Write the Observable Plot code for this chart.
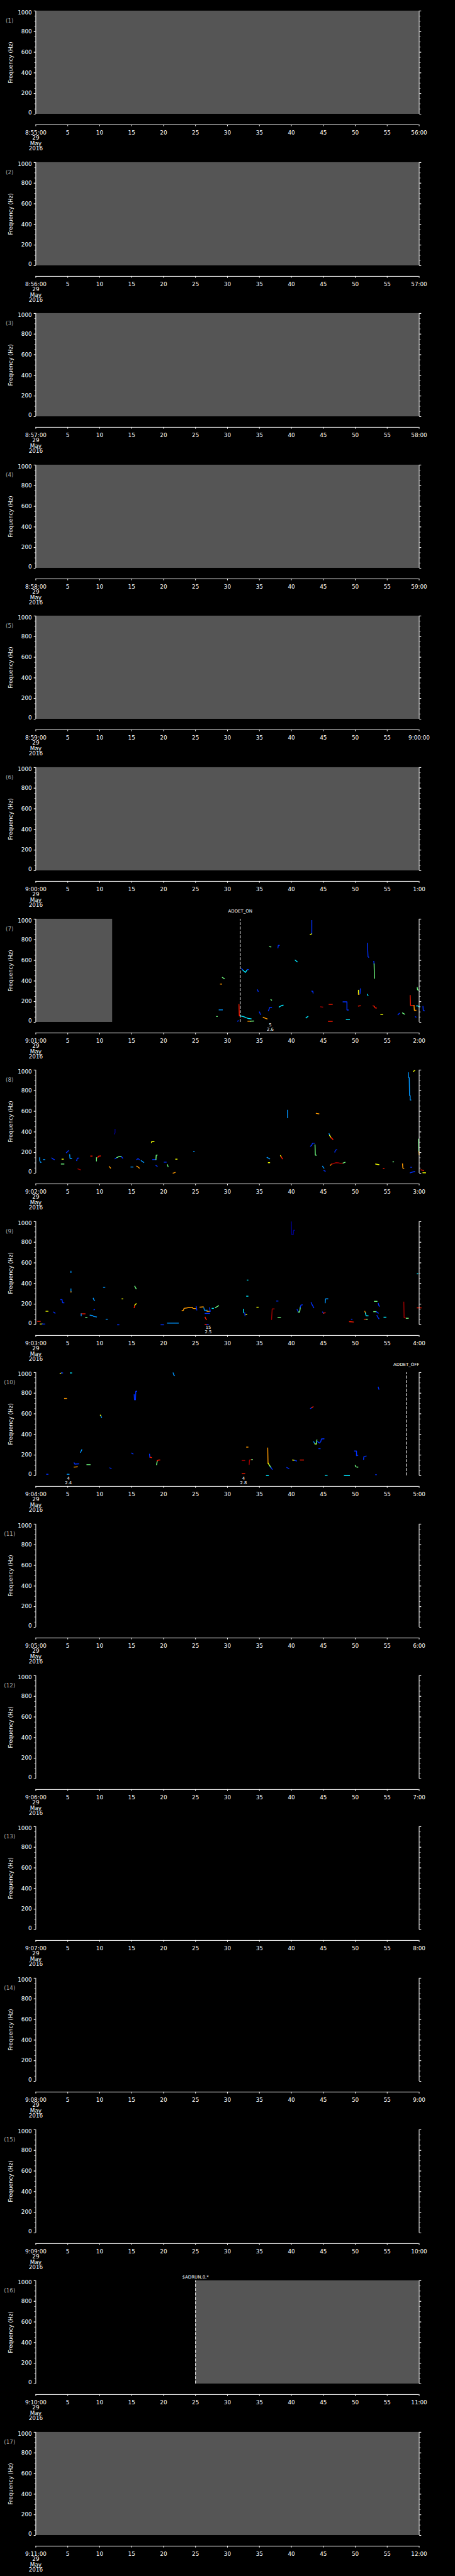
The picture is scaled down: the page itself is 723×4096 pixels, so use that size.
<!DOCTYPE html>
<html><head><meta charset="utf-8">
<script src="https://cdn.jsdelivr.net/npm/d3@7"></script>
<script src="https://cdn.jsdelivr.net/npm/@observablehq/plot@0.6"></script>
<style>
html,body{margin:0;padding:0;background:#000;}
#chart{width:723px;}
#chart svg{display:block;}
</style></head><body><div id="chart"></div>
<script>
// ---------------- DATA ----------------
const panelNumbers = [1,2,3,4,5,6,7,8,9,10,11,12,13,14,15,16,17];
const startLabels = ["8:55:00","8:56:00","8:57:00","8:58:00","8:59:00","9:00:00","9:01:00","9:02:00","9:03:00","9:04:00","9:05:00","9:06:00","9:07:00","9:08:00","9:09:00","9:10:00","9:11:00"];
const endLabels = ["56:00","57:00","58:00","59:00","9:00:00","1:00","2:00","3:00","4:00","5:00","6:00","7:00","8:00","9:00","10:00","11:00","12:00"];
const dateLines = ["29","May","2016"];
const xTicks = [0,5,10,15,20,25,30,35,40,45,50,55,60];
const midTickLabels = ["5","10","15","20","25","30","35","40","45","50","55"];
const yTicks = [0,200,400,600,800,1000];
const yMinorTicks = [0,50,100,150,200,250,300,350,400,450,500,550,600,650,700,750,800,850,900,950,1000];
const yTitle = "Frequency (Hz)";

// no-data (grey) spans, seconds within each minute
const grayPanels = [1,2,3,4,5,6,7,16,17];
const grayFrom   = [0,0,0,0,0,0,0,25,0];
const grayTo     = [60,60,60,60,60,60,12,60,60];

// event markers
const eventPanels = [7,10,16];
const eventTimes  = [32,58,25];
const eventLabels = ["ADDET_ON","ADDET_OFF","$ADRUN,0,*"];

// small annotations under the plot
const notePanels = [7,9,10,10];
const noteTimes  = [36.7,27.0,5.1,32.5];
const noteTop    = ["5","15","4","4"];
const noteBottom = ["2.6","2.5","2.4","2.8"];

// colour codes (intensity classes) -> jet colours
const colorCodes  = ["B","b","a","c","g","y","o","r","R"];
const colorValues = ["#00008c","#0030ff","#0096ff","#00e8ff","#70ff80","#f0ff00","#ff9a00","#ff1a00","#a00000"];

// traces: [colour, t1,f1, t2,f2, ...]  (t in s, f in Hz)
const traces7 = [
 ["b",43.2,986,43.2,857],["y",42.95,850,43.15,857],
 ["g",36.6,733,36.8,730],["b",38.1,745,37.95,745,37.9,722],
 ["c",40.6,602,40.9,587],
 ["b",51.9,766,51.95,700,52.0,635,52.1,630],
 ["b",52.9,590,52.95,565],["g",52.95,565,53.0,427],
 ["b",32.2,520,32.4,506],["c",32.4,506,32.8,483,33.1,510],["b",33.1,510,33.3,510],
 ["g",29.2,434,29.5,423],
 ["o",28.9,370,29.1,370],
 ["b",34.7,315,34.8,300],
 ["b",43.2,302,43.35,300,43.4,284],
 ["y",50.5,310,50.5,271],["o",50.5,275,50.6,271],["b",50.8,324,50.75,278],
 ["c",51.9,271,52.0,258],
 ["g",59.7,337,59.75,315,59.9,312],
 ["g",36.8,219,36.9,215],
 ["r",58.6,259,58.65,162,59.2,162],["o",59.2,162,59.25,116,59.5,116],
 ["c",59.6,158,59.8,158,60.0,150],["b",60.6,153,60.65,115,60.8,112],
 ["b",48.1,198,48.7,198,48.7,119,48.9,119],
 ["r",45.9,174,46.4,174],
 ["R",44.6,150,44.9,147],
 ["r",50.5,157,50.8,160],
 ["r",52.8,159,53.0,155,53.1,140,53.3,138],
 ["r",31.8,172,31.85,64,32.0,62],
 ["c",32.0,62,32.5,55,32.9,45,33.3,36,33.7,33],
 ["o",33.2,10,33.6,10],["g",33.6,11,34.1,12],
 ["b",31.6,11,31.7,15],
 ["b",35.0,100,35.1,85,35.2,76],
 ["o",35.6,47,36.2,33],
 ["b",36.4,112,36.5,125,36.6,143,36.9,143],
 ["c",38.1,148,38.4,160,38.7,165],
 ["c",42.3,43,42.6,57],
 ["r",45.8,9,46.4,9],
 ["c",48.6,29,49.1,29],
 ["y",54.0,76,54.3,76],
 ["b",56.7,73,56.9,86],
 ["g",57.4,90,57.7,79],
 ["b",59.4,54,59.5,50],
 ["g",28.3,56,28.4,56],
 ["a",28.7,120,29.2,120]
];
const traces8 = [
 ["a",58.3,974,58.35,927,58.45,927,58.5,753,58.6,753,58.6,709,58.7,709],
 ["y",59.1,987,59.3,995],
 ["a",39.4,609,39.4,537],
 ["o",43.9,580,44.3,575],
 ["B",12.3,380,12.4,392,12.4,425],
 ["a",45.9,383,46.0,366],["y",46.0,366,46.2,345],["r",46.2,345,46.5,328],
 ["y",18.1,297,18.15,308,18.5,308],
 ["b",43.0,262,43.2,272,43.3,290,43.6,290],["g",43.7,275,43.75,175,43.9,175],
 ["g",59.9,330,59.95,210],["o",59.95,210,60.0,179],
 ["b",46.8,205,46.9,223,47.1,228],
 ["b",4.8,199,5.1,218],
 ["a",24.7,209,24.8,209],
 ["a",0.6,150,0.62,120,0.75,105,0.8,105],
 ["a",1.2,132,1.4,132],
 ["b",2.5,148,2.7,138,2.9,132],
 ["y",4.1,136,4.3,136],
 ["a",5.3,179,5.35,143,5.6,143],
 ["b",6.4,122,6.5,146,6.7,146],
 ["r",8.6,166,8.8,166],
 ["g",9.5,119,9.5,150],["r",9.7,150,9.8,165,10.1,167],
 ["R",6.6,42,7.0,33],
 ["g",4.0,89,4.4,89],
 ["b",12.4,140,12.7,152],["g",12.7,152,13.0,160,13.4,160],["b",13.4,160,13.6,146],
 ["o",11.5,64,11.7,50],
 ["a",14.9,60,15.2,60],
 ["o",15.8,67,16.0,60,16.2,50],
 ["b",15.8,132,16.0,142,16.2,132],
 ["a",16.5,122,16.7,112,16.9,105],
 ["b",18.3,132,18.8,132],["g",18.8,132,18.85,176,19.0,176],
 ["b",18.8,76,19.0,67],
 ["b",20.1,107,20.4,107],
 ["g",20.6,82,20.7,64],
 ["y",21.9,136,22.1,136],
 ["o",21.5,1,21.8,7],
 ["a",36.2,153,36.6,140],
 ["y",36.4,102,36.6,102],
 ["y",38.3,170,38.4,160],["r",38.4,160,38.6,140],
 ["a",44.9,67,45.0,55,45.1,50],
 ["b",45.1,26,45.3,19],
 ["o",46.1,76,46.3,88],["R",46.3,88,46.7,96,47.0,102,47.4,100,47.7,96,48.1,98],["g",48.1,98,48.4,106],
 ["y",53.2,89,53.7,83],
 ["r",54.4,46,54.5,46],
 ["g",55.9,110,56.0,110],
 ["o",57.4,90,57.45,50,57.6,46],
 ["b",58.7,57,58.8,57],
 ["b",58.6,4,59.0,12,59.3,16],
 ["r",60.3,33,60.7,27],
 ["y",60.6,4,61.0,4]
];
const traces9 = [
 ["B",40.0,997,40.05,873,40.3,873,40.35,916,40.5,916],
 ["a",5.5,519,5.5,507],
 ["a",5.5,347,5.5,320],["o",5.5,320,5.5,316],
 ["a",10.6,363,10.8,363],
 ["g",15.5,373,15.7,349],
 ["c",33.1,433,33.2,433],
 ["c",33.0,277,33.2,277],
 ["a",9.0,256,9.1,240,9.2,237],
 ["y",13.5,251,13.6,251],
 ["b",3.9,244,4.1,244,4.2,213,4.4,213],
 ["r",15.4,166,15.5,190],["y",15.5,190,15.7,204],
 ["b",9.1,144,9.2,149],
 ["b",2.8,123,3.0,113],
 ["y",1.6,131,1.9,131],
 ["r",7.1,106,7.7,106],["a",7.1,106,7.1,87],
 ["a",8.5,93,8.9,88,9.1,80,9.5,76],
 ["g",7.8,69,8.0,69],
 ["a",11.0,54,11.2,54],
 ["r",0.3,33,0.7,33],
 ["y",0.7,7,1.0,7],["b",1.0,7,1.4,7],
 ["b",12.8,0,13.0,0],
 ["b",19.6,0,20.0,0],
 ["a",20.6,16,22.3,16],
 ["r",26.5,73,26.6,60,26.7,50],["r",26.5,1,26.8,1],["b",26.8,1,27.0,1],
 ["o",22.9,137,23.1,140,23.2,159,23.6,163,24.1,169,24.5,169,24.6,159,25.0,157],
 ["b",25.1,176,25.2,144],
 ["o",25.7,171,26.2,173],
 ["a",26.3,164,26.4,140,26.8,140],
 ["b",26.5,110,27.2,110],["o",26.8,130,27.2,130],
 ["b",27.2,166,27.3,130],
 ["c",27.6,159,27.8,159],
 ["g",28.1,166,28.6,184],
 ["c",32.5,150,32.55,116],["b",32.7,116,32.75,87],["y",32.9,100,33.0,100],
 ["y",34.6,170,34.8,170],
 ["R",36.9,51,37.0,154,37.3,154],
 ["g",37.9,69,38.3,69],
 ["b",37.7,230,37.9,230],
 ["b",40.9,149,41.1,123],["g",41.1,123,41.3,123,41.4,170],["b",41.4,170,41.5,190,41.7,193],
 ["b",43.1,216,43.2,200,43.5,166],
 ["a",45.3,213,45.35,251,45.7,251],
 ["b",44.9,123,45.0,113],["r",45.0,113,45.3,116],
 ["g",53.0,227,53.4,227],["b",53.6,207,53.7,185,53.8,180],
 ["g",52.9,127,53.3,127],["b",53.3,127,53.6,113],
 ["b",53.4,90,53.5,77,53.7,59],
 ["o",51.5,130,51.6,113],["c",51.6,113,51.7,87,52.0,87],
 ["c",54.5,73,54.8,73],
 ["b",49.4,54,49.5,54],["r",49.1,30,49.7,27],
 ["r",51.4,54,51.7,54],["g",51.7,54,51.9,54],
 ["R",57.6,220,57.65,70,58.0,63],["g",58.0,63,58.3,63],
 ["r",59.7,164,60.3,164],
 ["c",59.7,494,59.8,494]
];
const traces10 = [
 ["y",3.8,990,4.0,996],["b",4.0,996,4.2,996],
 ["c",5.4,996,5.6,996],
 ["a",21.5,996,21.6,975,21.7,971],
 ["o",4.5,749,4.8,749],
 ["b",15.4,785,15.45,735,15.6,735,15.65,818,15.8,818],
 ["y",10.1,587,10.2,578],["a",10.2,578,10.3,563],
 ["b",53.6,858,53.7,838],
 ["b",43.0,652,43.2,660],["r",43.2,660,43.4,668],
 ["a",43.5,329,43.7,308],["y",43.7,308,43.9,308],["g",43.9,308,44.0,347],["b",44.1,330,44.4,316,44.6,330,44.7,356,45.1,358],
 ["b",44.3,262,44.5,262],
 ["o",33.0,277,33.2,277],
 ["o",36.3,269,36.35,122],["y",36.35,122,36.6,98],["g",36.6,98,36.8,79],["b",36.8,79,37.0,62],
 ["R",32.3,147,32.7,147],
 ["R",33.4,109,33.45,153,33.8,156],["g",33.8,156,33.9,156],
 ["r",32.3,19,32.7,19],
 ["c",36.1,1,36.4,1],
 ["b",39.3,79,39.6,69],
 ["y",40.2,152,40.5,150],["b",40.5,150,40.8,143],
 ["r",41.4,152,41.9,152],
 ["b",49.9,239,50.2,239,50.2,193,50.4,199],
 ["b",51.3,159,51.35,185,51.7,190],
 ["g",50.0,100,50.1,86,50.4,83],
 ["c",45.3,4,45.6,4],
 ["c",48.3,1,49.1,1],
 ["b",53.2,10,53.3,10],
 ["a",7.0,226,7.2,251],
 ["b",15.0,219,15.2,212],
 ["b",17.8,208,17.85,180],["r",17.9,180,18.1,176],
 ["g",18.9,107,19.0,140],["r",19.0,145,19.2,152,19.4,152],
 ["b",6.0,125,6.1,113,6.7,115],
 ["o",6.0,83,6.5,86],
 ["g",8.0,107,8.5,107],
 ["b",11.6,76,11.8,69],
 ["b",1.7,14,1.9,14],
 ["a",4.9,14,5.2,14]
];
const tracePanels = [7,8,9,10];
const traceSets = [traces7,traces8,traces9,traces10];

// ---------------- LAYOUT ----------------
const k = 0.705;
const W = 723;
const H = 5802 / 17 * k;
const mL = 80 * k, mR = W - 944 * k, mT = 24 * k;
const plotBottom = 256.7 * k, axisLinePos = 280.7 * k;
const mB = H - axisLinePos;
const fs = 8.8;
const font = "DejaVu Sans, Verdana, sans-serif";
const eventDy = {"ADDET_ON": -12.4, "ADDET_OFF": -12.4, "$ADRUN,0,*": -5.4};

function toRows(traces) {
  const out = [];
  traces.forEach((tr, id) => {
    for (let j = 1; j < tr.length; j += 2) out.push({id, c: tr[0], t: tr[j], f: tr[j + 1]});
  });
  return out;
}

const chart = document.getElementById("chart");
panelNumbers.forEach((p, i) => {
  const marks = [];
  const gi = grayPanels.indexOf(p);
  if (gi >= 0) marks.push(Plot.rect([p], {x1: grayFrom[gi], x2: grayTo[gi], y1: 0, y2: 1000, fill: "#555555"}));

  const ti = tracePanels.indexOf(p);
  if (ti >= 0) {
    marks.push(Plot.line(toRows(traceSets[ti]), {x: "t", y: "f", z: "id", stroke: "c", strokeWidth: 1.4, strokeLinejoin: "miter", strokeLinecap: "square"}));
  }

  eventPanels.forEach((ep, j) => {
    if (ep !== p) return;
    marks.push(Plot.ruleX([eventTimes[j]], {y1: 0, y2: 1000, stroke: "#fff", strokeWidth: 1, strokeDasharray: "4.7,2.3"}));
    marks.push(Plot.text([eventLabels[j]], {x: eventTimes[j], y: 1000, dy: eventDy[eventLabels[j]], text: d => d, fill: "#fff", fontSize: 7, fontFamily: font, lineAnchor: "middle"}));
  });

  notePanels.forEach((np, j) => {
    if (np !== p) return;
    marks.push(Plot.text([noteTop[j] + "\n" + noteBottom[j]], {x: noteTimes[j], y: 0, dy: 7.7, text: d => d, fill: "#fff", fontSize: 6.8, lineHeight: 1.03, lineAnchor: "middle", fontFamily: font}));
  });

  // axes frame lines
  marks.push(Plot.ruleX([0, 60], {y1: 0, y2: 1000, stroke: "#fff", strokeWidth: 1}));
  marks.push(Plot.ruleY([0], {x1: 0, x2: 60, dy: axisLinePos - plotBottom, stroke: "#fff", strokeWidth: 1}));
  // ticks
  marks.push(Plot.axisY(yTicks, {anchor: "left", tickSize: 2.8, fill: "none", label: null, stroke: "#fff"}));
  marks.push(Plot.axisY(yMinorTicks, {anchor: "left", tickSize: 1.6, fill: "none", label: null, stroke: "#fff"}));
  marks.push(Plot.axisY(yTicks, {anchor: "right", tickSize: 2.8, fill: "none", label: null, stroke: "#fff"}));
  marks.push(Plot.axisY(yMinorTicks, {anchor: "right", tickSize: 1.6, fill: "none", label: null, stroke: "#fff"}));
  marks.push(Plot.axisX(xTicks, {anchor: "bottom", tickSize: 2.8, fill: "none", label: null, stroke: "#fff"}));

  // y tick labels
  const yl = {fill: "#fff", fontSize: fs, fontFamily: font, frameAnchor: "left", dx: -6.3, textAnchor: "end", text: d => String(d), y: d => d};
  marks.push(Plot.text(yTicks.filter(v => v > 0 && v < 1000), {...yl, lineAnchor: "middle"}));
  marks.push(Plot.text([1000], {...yl, lineAnchor: "top", dy: -1}));
  marks.push(Plot.text([0], {...yl, lineAnchor: "bottom", dy: 1}));

  // x tick labels
  const xl = [{t: 0, s: startLabels[i]}]
    .concat(midTickLabels.map((s, j) => ({t: xTicks[j + 1], s})))
    .concat([{t: 60, s: endLabels[i]}]);
  marks.push(Plot.text(xl, {x: "t", text: "s", frameAnchor: "bottom", dy: 12.5, lineAnchor: "middle", fill: "#fff", fontSize: fs, fontFamily: font}));
  marks.push(Plot.text([dateLines.join("\n")], {x: 0, text: d => d, frameAnchor: "bottom", dy: 29.5, lineAnchor: "middle", lineHeight: 0.96, fill: "#fff", fontSize: fs, fontFamily: font}));

  // titles
  marks.push(Plot.text([yTitle], {x: 0, y: 500, dx: -40.2, rotate: -90, text: d => d, fill: "#fff", fontSize: fs, fontFamily: font, textAnchor: "middle"}));
  marks.push(Plot.text(["(" + p + ")"], {x: 0, y: 1000, dx: -41.6, dy: 16.1, text: d => d, fill: "#a8a8a8", fontSize: fs, fontFamily: font, textAnchor: "middle"}));

  const svg = Plot.plot({
    width: W, height: H,
    marginLeft: mL, marginRight: mR, marginTop: mT, marginBottom: mB,
    x: {domain: [0, 60]},
    y: {domain: [0, 1000], range: [plotBottom, mT]},
    color: {type: "ordinal", domain: colorCodes, range: colorValues},
    style: {background: "#000", color: "#fff", fontFamily: font, overflow: "visible"},
    marks
  });
  chart.appendChild(svg);
});
</script></body></html>
